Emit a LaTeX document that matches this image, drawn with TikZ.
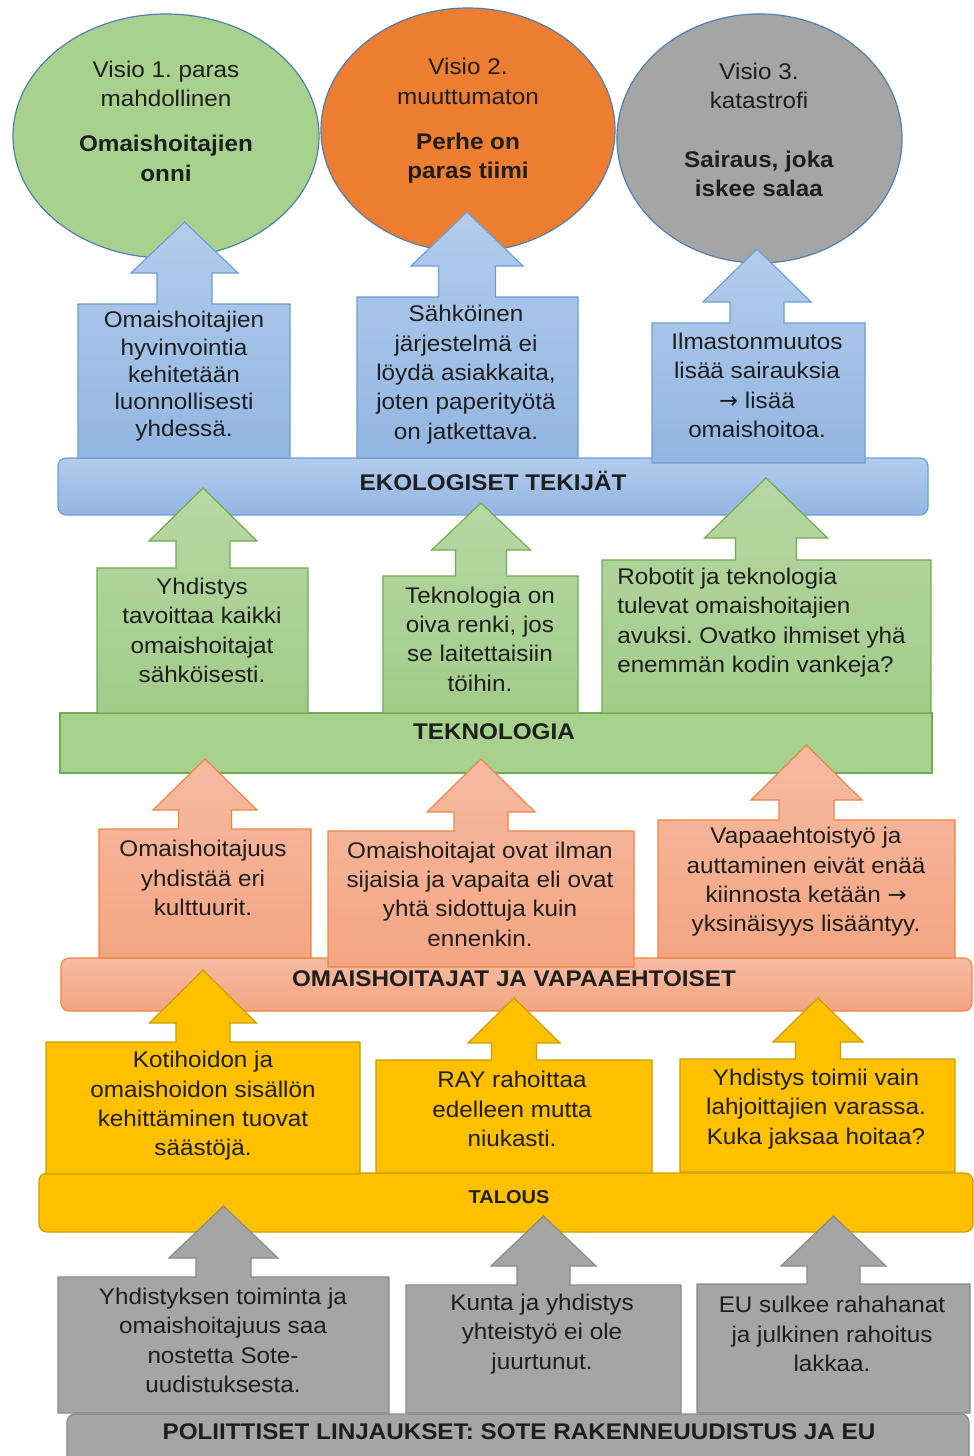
\documentclass[tikz,border=0pt]{standalone}
\usepackage{fontspec}
\setmainfont{Liberation Sans}[FakeStretch=1.07]
\newfontfamily\arrowfont{DejaVu Sans}
\newcommand{\rarr}{{\arrowfont →}}
\frenchspacing

% palette
\definecolor{txtcol}{HTML}{1E1E1E}
\definecolor{ringcol}{HTML}{4F7FB5}
\definecolor{visGreen}{HTML}{A9D18E}
\definecolor{visOrange}{HTML}{ED7D31}
\definecolor{visGray}{HTML}{A5A5A5}
\definecolor{bluTop}{HTML}{B3CCEC}
\definecolor{bluBot}{HTML}{92B6E2}
\definecolor{bluLine}{HTML}{6C9FD8}
\definecolor{grnTop}{HTML}{B6D8A3}
\definecolor{grnBot}{HTML}{A2CC8A}
\definecolor{grnFlat}{HTML}{A9D18E}
\definecolor{grnLine}{HTML}{72AC50}
\definecolor{salTop}{HTML}{F6BBA3}
\definecolor{salBot}{HTML}{F4A582}
\definecolor{salLine}{HTML}{EE8645}
\definecolor{yelFill}{HTML}{FFC000}
\definecolor{yelLine}{HTML}{C9A000}
\definecolor{gryFill}{HTML}{A5A5A5}
\definecolor{gryLine}{HTML}{8A8A8A}

% box with an upward arrow on its top edge
% #1 left, #2 right, #3 top, #4 bottom, #5 arrow axis,
% #6 stem half width, #7 head half width, #8 head base, #9 tip
\newcommand{\upcallout}[9]{%
  \path[callbox] (#1,#4) -- (#1,#3) -- ({#5-#6},#3) -- ({#5-#6},#8)
    -- ({#5-#7},#8) -- (#5,#9) -- ({#5+#7},#8) -- ({#5+#6},#8)
    -- ({#5+#6},#3) -- (#2,#3) -- (#2,#4) -- cycle;}

\tikzset{
  txt/.style={align=center, text=txtcol, inner sep=0pt,
    font=\fontsize{17}{22}\selectfont},
  lbl/.style={text=txtcol, inner sep=0pt,
    font=\bfseries\fontsize{17}{20}\selectfont},
  vision/.style={draw=ringcol, line width=0.9pt},
}

\begin{document}
\begin{tikzpicture}[x=0.75pt, y=-0.75pt, line join=miter]
\useasboundingbox (0,0) rectangle (974,1456);
\fill[white] (0,0) rectangle (974,1456);

% ---- visions ----
\draw[vision, fill=visGreen]  (166,136)   ellipse [x radius=114.75pt, y radius=91.5pt];
\draw[vision, fill=visOrange] (468,130)   ellipse [x radius=110.25pt, y radius=91.5pt];
\draw[vision, fill=visGray]   (759.5,138.5) ellipse [x radius=106.9pt, y radius=93.4pt];

\node[txt] (v1) at (166,121) {Visio 1. paras\\mahdollinen\\[12pt]
  \textbf{Omaishoitajien}\\\textbf{onni}};
\node[txt] (v2) at (468,121) {Visio 2.\\muuttumaton\\[12pt]
  \textbf{Perhe on}\\\textbf{paras tiimi}};
\node[txt] (v3) at (759,130) {Visio 3.\\katastrofi\\[22pt]
  \textbf{Sairaus, joka}\\\textbf{iskee salaa}};

% ---- ecological factors ----
\begin{scope}[callbox/.style={draw=bluLine, line width=0.9pt, top color=bluTop, bottom color=bluBot}]
\path[draw=bluLine, line width=0.9pt, top color=bluTop, bottom color=bluBot, rounded corners=6pt]
  (58,458) rectangle (928,515);
\node[lbl] (eko) at (493,481) {EKOLOGISET TEKIJÄT};
\upcallout{78}{290}{304}{458}{184.5}{27.5}{53.5}{273}{222}
\upcallout{357}{578}{297}{458}{467}{28.5}{56}{266}{212}
\upcallout{652}{865}{323}{463}{757}{27}{54}{302}{249}
\end{scope}
\node[txt, font=\fontsize{17}{20.4}\selectfont] (b1) at (184,376.5)
  {Omaishoitajien\\hyvinvointia\\kehitetään\\luonnollisesti\\yhdessä.};
\node[txt] (b2) at (466,374.5)
  {Sähköinen\\järjestelmä ei\\löydä asiakkaita,\\joten paperityötä\\on jatkettava.};
\node[txt] (b3) at (757,385.5)
  {Ilmastonmuutos\\lisää sairauksia\\\rarr{} lisää\\omaishoitoa.};

% ---- technology ----
\begin{scope}[callbox/.style={draw=grnLine, line width=0.9pt, top color=grnTop, bottom color=grnBot}]
\path[draw=grnLine, line width=0.9pt, fill=grnFlat] (60,713) rectangle (932,773);
\node[lbl] (tek) at (494,732) {TEKNOLOGIA};
\upcallout{97}{308}{568}{713}{203}{27}{54}{541}{488}
\upcallout{383}{578}{576}{713}{481}{25.5}{49.5}{550}{503}
\upcallout{602}{931}{560}{713}{766}{30.5}{61.5}{538}{478}
\end{scope}
\node[txt] (g1) at (202,630.5)
  {Yhdistys\\tavoittaa kaikki\\omaishoitajat\\sähköisesti.};
\node[txt] (g2) at (480,639)
  {Teknologia on\\oiva renki, jos\\se laitettaisiin\\töihin.};
\node[txt, align=left, anchor=west] (g3) at (617,622.5)
  {Robotit ja teknologia\\tulevat omaishoitajien\\avuksi. Ovatko ihmiset yhä\\enemmän kodin vankeja?};

% ---- carers and volunteers ----
\begin{scope}[callbox/.style={draw=salLine, line width=0.9pt, top color=salTop, bottom color=salBot}]
\path[draw=salLine, line width=0.9pt, top color=salTop, bottom color=salBot, rounded corners=6pt]
  (61,958) rectangle (972,1011);
\node[lbl] (omv) at (514,979) {OMAISHOITAJAT JA VAPAAEHTOISET};
\upcallout{99}{311}{829}{958}{205}{26.5}{52}{810}{759}
\upcallout{328}{634}{831}{967}{481}{27}{54}{812}{759}
\upcallout{658}{955}{820}{958}{806.5}{27.5}{55.5}{800}{745}
\end{scope}
\node[txt] (s1) at (203,878)
  {Omaishoitajuus\\yhdistää eri\\kulttuurit.};
\node[txt] (s2) at (480,894)
  {Omaishoitajat ovat ilman\\sijaisia ja vapaita eli ovat\\yhtä sidottuja kuin\\ennenkin.};
\node[txt] (s3) at (806,882)
  {Vapaaehtoistyö ja\\auttaminen eivät enää\\kiinnosta ketään \rarr\\yksinäisyys lisääntyy.};

% ---- economy ----
\begin{scope}[callbox/.style={draw=yelLine, line width=0.9pt, fill=yelFill}]
\path[draw=yelLine, line width=0.9pt, fill=yelFill, rounded corners=6pt]
  (39,1173) rectangle (973,1232);
\node[lbl, font=\bfseries\fontsize{14}{16}\selectfont] (tal) at (509,1197) {TALOUS};
\upcallout{46}{360}{1042}{1174}{203}{27}{53.5}{1023}{970}
\upcallout{376}{652}{1060}{1173}{514}{22.5}{46}{1043}{998}
\upcallout{680}{955}{1059}{1172}{818}{22.5}{45}{1042}{998}
\end{scope}
\node[txt] (y1) at (203,1106)
  {Kotihoidon ja\\omaishoidon sisällön\\kehittäminen tuovat\\säästöjä.};
\node[txt] (y2) at (512,1109)
  {RAY rahoittaa\\edelleen mutta\\niukasti.};
\node[txt] (y3) at (816,1109)
  {Yhdistys toimii vain\\lahjoittajien varassa.\\Kuka jaksaa hoitaa?};

% ---- policy ----
\begin{scope}[callbox/.style={draw=gryLine, line width=0.9pt, fill=gryFill}]
\path[draw=gryLine, line width=0.9pt, fill=gryFill, rounded corners=6pt]
  (67,1414) rectangle (969,1490);
\node[lbl] (pol) at (519,1432) {POLIITTISET LINJAUKSET: SOTE RAKENNEUUDISTUS JA EU};
\upcallout{58}{389}{1277}{1413}{223.5}{27.5}{54.5}{1258}{1206}
\upcallout{406}{681}{1285}{1413}{543.5}{26.5}{52.5}{1266}{1216}
\upcallout{697}{970}{1284}{1413}{833.5}{26.5}{52.5}{1266}{1216}
\end{scope}
\node[txt] (p1) at (223,1340.5)
  {Yhdistyksen toiminta ja\\omaishoitajuus saa\\nostetta Sote-\\uudistuksesta.};
\node[txt] (p2) at (542,1334)
  {Kunta ja yhdistys\\yhteistyö ei ole\\juurtunut.};
\node[txt] (p3) at (832,1334)
  {EU sulkee rahahanat\\ja julkinen rahoitus\\lakkaa.};
\end{tikzpicture}
\end{document}
